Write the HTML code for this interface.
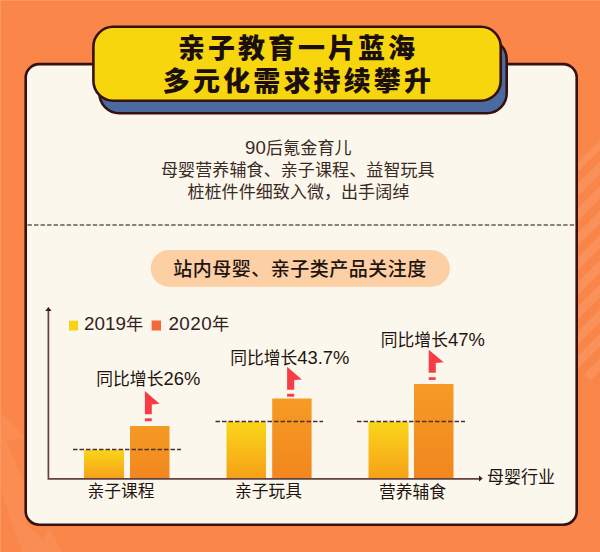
<!DOCTYPE html>
<html lang="zh-CN">
<head>
<meta charset="utf-8">
<title>亲子教育一片蓝海</title>
<style>
  html, body { margin: 0; padding: 0; }
  body {
    width: 600px; height: 552px; overflow: hidden; position: relative;
    background: #FA8649;
    font-family: "Liberation Sans", "Noto Sans CJK SC", sans-serif;
    color: #2a1a18;
  }
  #bg, #shapes { position: absolute; left: 0; top: 0; width: 600px; height: 552px; }
  .t { position: absolute; white-space: nowrap; line-height: 1; }
  .title {
    font-weight: 900; font-size: 27px; letter-spacing: 3px; color: #1a0f0c;
    text-align: center; left: 0; width: 600px;
  }
  .sub { font-size: 17px; color: #3a2a26; text-align: center; left: 0; width: 600px; }
  .pilltxt { font-size: 19px; font-weight: 500; color: #1f1410; text-align: center; left: 150px; width: 301px; letter-spacing: 0.5px; }
  .lg { font-size: 17.2px; color: #33201e; }
  .n { font-size: 1.095em; line-height: 1; }
  .grow { font-size: 16.8px; color: #1f1410; }
  .cat { font-size: 16.75px; color: #1f1410; }
</style>
</head>
<body>
<svg id="bg" viewBox="0 0 600 552">
  <defs>
    <clipPath id="diamond"><path d="M475 265 L600 140 L600 390 Z"/></clipPath>
  </defs>
  <rect width="600" height="552" fill="#FA8649"/>
  <!-- faint diagonal stripes on the right -->
  <g clip-path="url(#diamond)" fill="#FC9C68" opacity="0.55">
    <path d="M560 177 L600 137 V149.5 L560 189.5 Z"/>
    <path d="M560 201.6 L600 161.6 V174.1 L560 214.1 Z"/>
    <path d="M560 226.2 L600 186.2 V198.7 L560 238.7 Z"/>
    <path d="M560 250.8 L600 210.8 V223.3 L560 263.3 Z"/>
    <path d="M560 275.4 L600 235.4 V247.9 L560 287.9 Z"/>
    <path d="M560 300 L600 260 V272.5 L560 312.5 Z"/>
    <path d="M560 324.6 L600 284.6 V297.1 L560 337.1 Z"/>
    <path d="M560 349.2 L600 309.2 V321.7 L560 361.7 Z"/>
    <path d="M560 373.8 L600 333.8 V346.3 L560 386.3 Z"/>
    <path d="M560 398.4 L600 358.4 V370.9 L560 410.9 Z"/>
  </g>
  <!-- faint zigzag at bottom-left -->
  <g fill="#FC9A66" opacity="0.35">
    <path d="M0 412 L26 439 L6 440 L26 488 V524 L58 552 H22 L0 488 Z"/>
    <path d="M36 552 L50 528 L62 552 Z"/>
  </g>
  <rect x="0" y="0" width="600" height="1" fill="#FC9863"/>
  <rect x="0" y="0" width="1" height="552" fill="#FC9863"/>
</svg>

<svg id="shapes" viewBox="0 0 600 552">
  <defs>
    <linearGradient id="gy" x1="0" y1="0" x2="0" y2="1">
      <stop offset="0" stop-color="#F9D61B"/>
      <stop offset="1" stop-color="#F7A118"/>
    </linearGradient>
    <linearGradient id="go" x1="0" y1="0" x2="0" y2="1">
      <stop offset="0" stop-color="#F59B24"/>
      <stop offset="1" stop-color="#F2871F"/>
    </linearGradient>
  </defs>

  <!-- card -->
  <rect x="25.7" y="64.1" width="551" height="460.6" rx="13.5" ry="13.5" fill="#FBF7EC" stroke="#36110F" stroke-width="2.6"/>

  <!-- banner shadow + banner -->
  <rect x="99.4" y="39.3" width="407.3" height="73.9" rx="20" ry="20" fill="#4B6BA0" stroke="#36110F" stroke-width="2.6"/>
  <rect x="93.4" y="26.8" width="407.3" height="73.9" rx="20" ry="20" fill="#F8D60E" stroke="#36110F" stroke-width="2.6"/>

  <!-- dashed separator -->
  <line x1="27.5" y1="225" x2="575" y2="225" stroke="#6B5850" stroke-width="1.7" stroke-dasharray="4.4 2.133"/>

  <!-- pill -->
  <rect x="150.7" y="250.1" width="299.2" height="36.6" rx="18.3" ry="18.3" fill="#FDCFA4"/>

  <!-- legend -->
  <rect x="69" y="320.7" width="9.1" height="9.8" fill="#F7D313"/>
  <rect x="151.6" y="320.5" width="9.4" height="10" fill="#F26A3A"/>

  <!-- bars -->
  <rect x="84" y="450" width="40" height="28" fill="url(#gy)"/>
  <rect x="130" y="426" width="39.5" height="52" fill="url(#go)"/>
  <rect x="226.5" y="422" width="39.5" height="56" fill="url(#gy)"/>
  <rect x="272.2" y="398.5" width="39.4" height="79.5" fill="url(#go)"/>
  <rect x="368.5" y="422" width="40" height="56" fill="url(#gy)"/>
  <rect x="414" y="384" width="39.5" height="94" fill="url(#go)"/>

  <!-- dashed reference lines -->
  <g stroke="#4F2E28" stroke-width="1.4" stroke-dasharray="4.5 2">
    <line x1="73" y1="449.5" x2="181" y2="449.5"/>
    <line x1="215.5" y1="421.5" x2="323" y2="421.5"/>
    <line x1="357" y1="421.5" x2="465" y2="421.5"/>
  </g>

  <!-- axes -->
  <g stroke="#634240" stroke-width="1.7" fill="none">
    <path d="M48.4 310 V478.9 H479.5"/>
  </g>
  <path d="M48.4 307 L45.3 310.9 L51.5 310.9 Z" fill="#3A1A1A"/>
  <path d="M482.7 478.6 L479 475.4 L479 481.6 Z" fill="#3A1A1A"/>

  <!-- red arrows -->
  <g fill="#F83C45">
    <g transform="translate(144.9 391)"><path d="M0 0 L14.7 12.7 L6.9 13.5 V23.3 H0 Z"/><rect x="0" y="27.3" width="6.9" height="2.9"/></g>
    <g transform="translate(287.1 366.7)"><path d="M0 0 L14.7 12.7 L7.1 13.4 V23 H0 Z"/><rect x="0" y="27.1" width="7.1" height="2.9"/></g>
    <g transform="translate(428.7 349.8)"><path d="M0 0 L15 12.4 L7.05 13.2 V23 H0 Z"/><rect x="0" y="27.4" width="7.05" height="2.7"/></g>
  </g>
</svg>

<div class="t title" style="top:35.5px; left:-1.9px;">亲子教育一片蓝海</div>
<div class="t title" style="top:68.5px; left:-1.5px; letter-spacing:3.15px;">多元化需求持续攀升</div>

<div class="t sub" style="top:139px; left:-1.65px; letter-spacing:0.15px;"><span class="n">90</span>后氪金育儿</div>
<div class="t sub" style="top:162px; left:-2.15px; letter-spacing:0.11px;">母婴营养辅食、亲子课程、益智玩具</div>
<div class="t sub" style="top:184.3px; left:-1.65px; letter-spacing:0.06px;">桩桩件件细致入微，出手阔绰</div>

<div class="t pilltxt" style="top:259.6px; left:149.6px;">站内母婴、亲子类产品关注度</div>

<div class="t lg" style="left:84px; top:315.2px;"><span class="n">2019</span>年</div>
<div class="t lg" style="left:168.4px; top:315.2px; letter-spacing:0.45px;"><span class="n">2020</span>年</div>

<div class="t grow" style="left:96.3px; top:369.5px;">同比增长<span class="n">26%</span></div>
<div class="t grow" style="left:230.2px; top:348.5px;">同比增长<span class="n">43.7%</span></div>
<div class="t grow" style="left:380.8px; top:330.5px;">同比增长<span class="n">47%</span></div>

<div class="t cat" style="left:87.6px; top:484.3px;">亲子课程</div>
<div class="t cat" style="left:234.9px; top:484.3px;">亲子玩具</div>
<div class="t cat" style="left:379px; top:484.7px;">营养辅食</div>
<div class="t cat" style="left:487.1px; top:469px; font-size:17px;">母婴行业</div>
</body>
</html>
